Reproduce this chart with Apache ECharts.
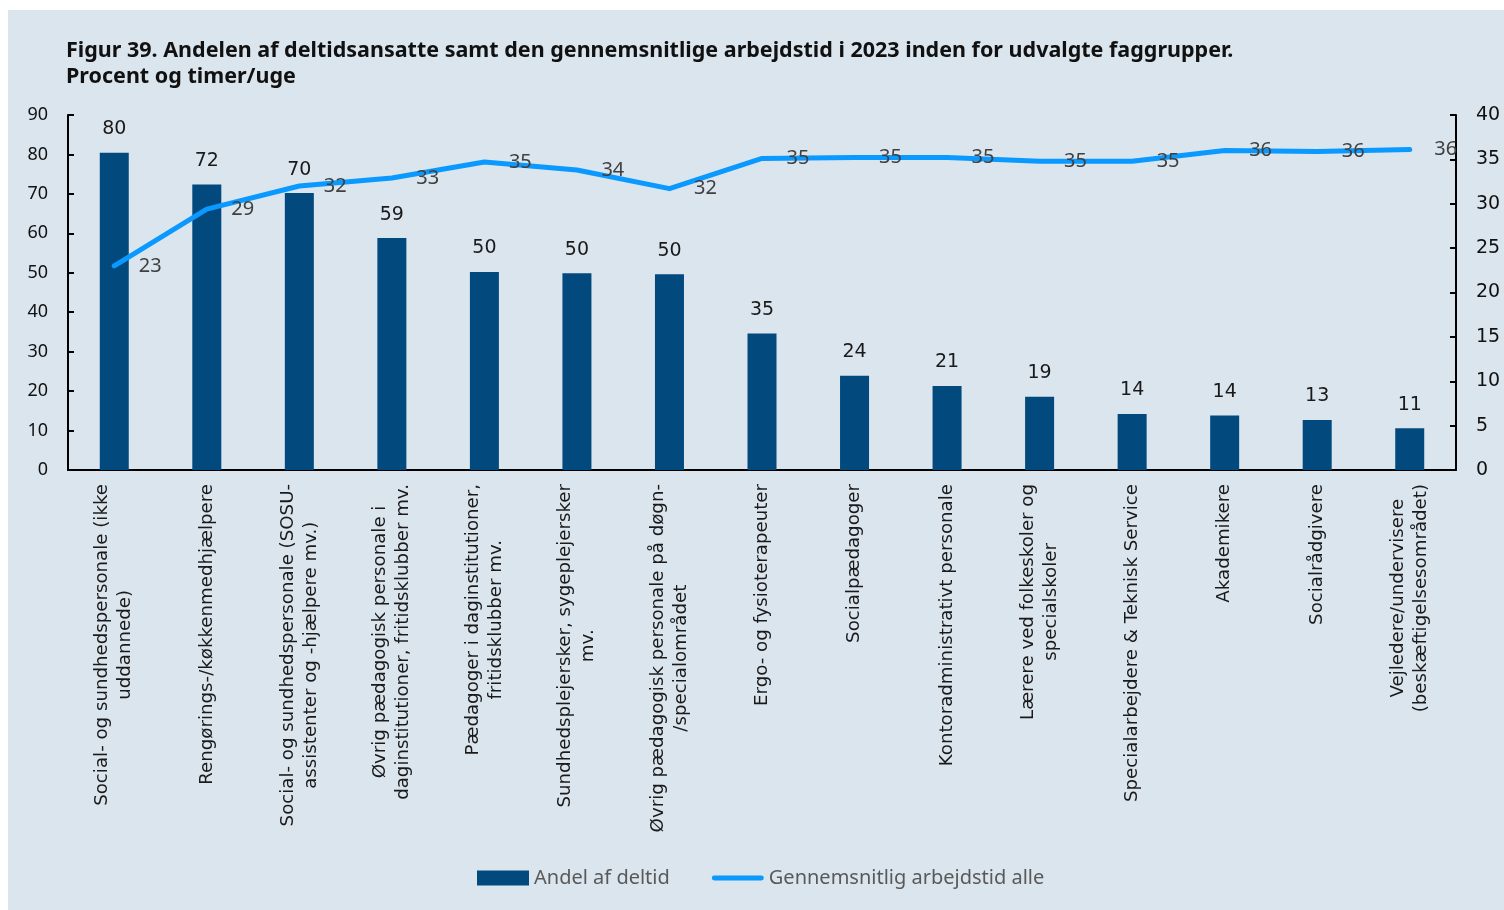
<!DOCTYPE html>
<html>
<head>
<meta charset="utf-8">
<script src="https://cdn.jsdelivr.net/npm/echarts@6/dist/echarts.min.js"></script>
<style>
  html, body { margin: 0; padding: 0; background: #ffffff; }
  #chart { position: absolute; left: 8px; top: 10px; width: 1496px; height: 900px; }
</style>
</head>
<body>
<div id="chart"></div>
<script>
// faggrupper (linjeskift som i figuren)
const categories = [
  'Social- og sundhedspersonale (ikke\nuddannede)',
  'Rengørings-/køkkenmedhjælpere',
  'Social- og sundhedspersonale (SOSU-\nassistenter og -hjælpere mv.)',
  'Øvrig pædagogisk personale i\ndaginstitutioner, fritidsklubber mv.',
  'Pædagoger i daginstitutioner,\nfritidsklubber mv.',
  'Sundhedsplejersker, sygeplejersker\nmv.',
  'Øvrig pædagogisk personale på døgn-\n/specialområdet',
  'Ergo- og fysioterapeuter',
  'Socialpædagoger',
  'Kontoradministrativt personale',
  'Lærere ved folkeskoler og\nspecialskoler',
  'Specialarbejdere & Teknisk Service',
  'Akademikere',
  'Socialrådgivere',
  'Vejledere/undervisere\n(beskæftigelsesområdet)'
]

// andel af deltid, procent (venstre akse)
const andelDeltid = [80.4, 72.4, 70.2, 58.8, 50.2, 49.9, 49.6, 34.6, 23.9, 21.3, 18.6, 14.2, 13.8, 12.7, 10.6]

// gennemsnitlig arbejdstid, timer/uge (højre akse)
const arbejdstid = [23.0, 29.4, 32.0, 32.9, 34.7, 33.8, 31.7, 35.1, 35.2, 35.2, 34.8, 34.8, 36.0, 35.9, 36.1]

const seriesNames = ['Andel af deltid', 'Gennemsnitlig arbejdstid alle']

const chart = echarts.init(document.getElementById('chart'))

const option = {
  backgroundColor: '#dbe5ee',
  textStyle: { fontFamily: 'Noto Sans' },
  title: {
    text: 'Figur 39. Andelen af deltidsansatte samt den gennemsnitlige arbejdstid i 2023 inden for udvalgte faggrupper.\nProcent og timer/uge',
    left: 53,
    top: 23,
    textStyle: {
      fontFamily: 'Noto Sans',
      fontWeight: 'bold',
      fontSize: 21.5,
      lineHeight: 26,
      color: '#111111',
    },
  },
  legend: {
    left: 464,
    bottom: 17,
    itemGap: 42,
    itemWidth: 52,
    itemHeight: 15,
    textStyle: { fontSize: 20, color: '#595959' },
    data: [
      { name: seriesNames[0], icon: 'rect' },
      // afrundet streg som i figuren
      { name: seriesNames[1], icon: 'path://M2.5,0H51.5A2.5,2.5,0,0,1,51.5,5H2.5A2.5,2.5,0,0,1,2.5,0Z' },
    ],
  },
  grid: {
    left: 60,
    right: 48,
    top: 105,
    bottom: 440,
    containLabel: false,
  },
  xAxis: {
    type: 'category',
    data: categories,
    axisLine: { lineStyle: { color: '#000000', width: 2 } },
    axisTick: { show: false },
    axisLabel: {
      interval: 0,
      rotate: 90,
      margin: 14,
      fontFamily: 'DejaVu Sans',
      fontSize: 18.2,
      lineHeight: 23,
      color: '#1a1a1a',
      // hver linje centreres i blokken
      formatter: (v) => v.split('\n').map((s) => '{c|' + s + '}').join('\n'),
      rich: {
        c: { align: 'center', fontFamily: 'DejaVu Sans', fontSize: 18.2, lineHeight: 23, color: '#1a1a1a' },
      },
    },
  },
  yAxis: [
    {
      type: 'value',
      min: 0,
      max: 90,
      interval: 10,
      splitLine: { show: false },
      axisLine: { show: true, lineStyle: { color: '#000000', width: 2 } },
      axisTick: { show: true, inside: true, length: 6, lineStyle: { color: '#000000', width: 2 } },
      axisLabel: { fontSize: 18, color: '#111111', margin: 20 },
    },
    {
      type: 'value',
      min: 0,
      max: 40,
      interval: 5,
      splitLine: { show: false },
      axisLine: { show: true, lineStyle: { color: '#000000', width: 2 } },
      axisTick: { show: true, inside: true, length: 6, lineStyle: { color: '#000000', width: 2 } },
      axisLabel: { fontFamily: 'DejaVu Sans', fontSize: 19, color: '#111111', margin: 20 },
    },
  ],
  series: [
    {
      name: seriesNames[0],
      type: 'bar',
      yAxisIndex: 0,
      data: andelDeltid,
      barWidth: 29,
      itemStyle: { color: '#02497e' },
      label: {
        show: true,
        position: 'top',
        distance: 14,
        fontFamily: 'DejaVu Sans',
        fontSize: 19,
        color: '#1a1a1a',
        formatter: (p) => Math.round(p.value),
      },
      z: 2,
    },
    {
      name: seriesNames[1],
      type: 'line',
      yAxisIndex: 1,
      data: arbejdstid,
      symbol: 'circle',
      symbolSize: 1,
      showSymbol: true,
      lineStyle: { color: '#0a99ff', width: 5, cap: 'round', join: 'round' },
      itemStyle: { color: '#0a99ff' },
      label: {
        show: true,
        position: 'right',
        distance: 24,
        fontSize: 20,
        color: '#404040',
        formatter: (p) => Math.round(p.value),
      },
      labelLayout: { hideOverlap: false },
      z: 3,
    },
  ],
}

chart.setOption(option)
</script>
</body>
</html>
